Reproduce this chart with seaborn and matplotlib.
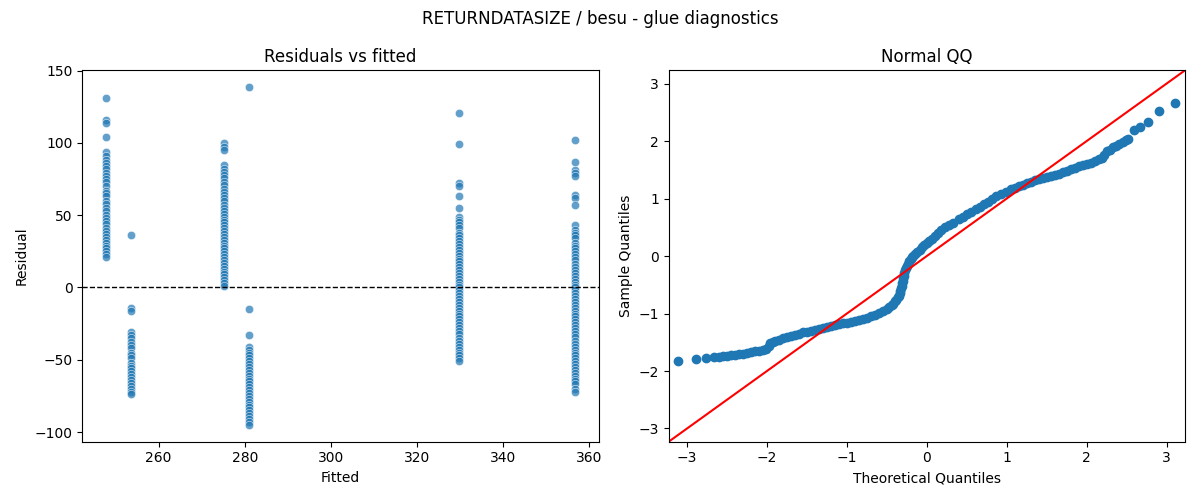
import matplotlib
matplotlib.use("Agg")
import matplotlib.pyplot as plt
import seaborn as sns
import pandas as pd
import numpy as np

# ---- Residuals vs fitted data (one list of residuals per fitted level) ----
fitted_levels = [247.7, 253.5, 275.1, 280.9, 329.7, 356.8]

resid_247 = [131, 116, 114, 104, 94, 91, 88, 86, 84, 82, 79, 77, 75, 73, 70, 67,
             65, 63, 60, 58, 55, 53, 50, 48, 46, 44, 41, 39, 37, 35, 33, 31, 29,
             27, 25, 23, 21]
resid_253 = [36, -14, -16, -31, -33, -35, -38, -40, -42, -45, -47, -49, -52, -54,
             -56, -58, -60, -62, -64, -66, -68, -70, -72, -74]
resid_275 = [100, 97, 95, 85, 82, 80, 78, 76, 73, 71, 68, 66, 64, 62, 60, 57, 55,
             53, 51, 49, 47, 45, 43, 41, 39, 37, 35, 33, 31, 29, 27, 25, 23, 21,
             19, 17, 15, 13, 11, 9, 7, 5, 3, 1]
resid_281 = [138.5, -15, -33, -41, -43, -45, -47, -49, -51, -53, -55, -57, -59,
             -61, -63, -65, -67, -69, -71, -73, -75, -77, -79, -81, -83, -85, -87,
             -89, -91, -93, -95]
resid_330 = [120.5, 99, 72, 70, 63, 55, 49, 47, 45, 43, 41, 38, 36, 34, 32, 30,
             28, 26, 24, 22, 20, 18, 16, 14, 12, 10, 8, 6, 4, 2, 0, -2, -4, -6,
             -8, -10, -12, -14, -16, -18, -20, -22, -24, -26, -28, -30, -32, -35,
             -37, -39, -41, -43, -45, -47, -49, -51]
resid_357 = [102, 87, 81, 79, 77, 64, 62, 57, 43, 40, 38, 36, 34, 31, 29, 27, 25,
             23, 21, 19, 16, 14, 12, 10, 8, 6, 4, 2, 0, -2, -4, -6, -8, -10, -12,
             -14, -16, -18, -20, -22, -24, -26, -28, -30, -32, -34, -37, -39, -41,
             -43, -45, -47, -49, -51, -53, -55, -57, -59, -61, -63, -65, -67, -70,
             -72]

# ---- Normal QQ data (theoretical, sample) ----
qq_theoretical = [
    -3.11, -2.89, -2.76, -2.66, -2.60,
    -2.55, -2.50, -2.45, -2.40, -2.35, -2.30, -2.25, -2.20, -2.15, -2.10, -2.05,
    -2.01, -1.98, -1.96, -1.93, -1.90, -1.85, -1.80, -1.75, -1.70, -1.65, -1.60,
    -1.55, -1.50, -1.45, -1.40, -1.35, -1.30, -1.25, -1.20, -1.15, -1.10, -1.05,
    -1.00, -0.95, -0.90, -0.85, -0.80, -0.75, -0.70, -0.65, -0.60, -0.55, -0.50,
    -0.47, -0.44, -0.42, -0.40, -0.38, -0.365, -0.35, -0.34, -0.33, -0.32, -0.31,
    -0.305, -0.30, -0.295, -0.29, -0.28, -0.27, -0.26, -0.25, -0.235, -0.22,
    -0.20, -0.185, -0.17, -0.15, -0.12, -0.09, -0.06, -0.03, 0.00, 0.03, 0.06,
    0.10, 0.14, 0.18, 0.23, 0.28, 0.33, 0.40, 0.45, 0.50, 0.55, 0.61, 0.66, 0.71,
    0.76, 0.82, 0.87, 0.93, 0.99, 1.05, 1.10, 1.15, 1.20, 1.25, 1.30, 1.35, 1.40,
    1.45, 1.50, 1.55, 1.60, 1.65, 1.70, 1.75, 1.80, 1.85, 1.90, 1.95, 2.00, 2.05,
    2.10, 2.15, 2.19, 2.22, 2.25, 2.29, 2.33, 2.37, 2.41, 2.45, 2.49, 2.52,
    2.59, 2.67, 2.77, 2.90, 3.11,
]
qq_sample = [
    -1.82, -1.79, -1.77, -1.76, -1.755,
    -1.74, -1.74, -1.73, -1.72, -1.71, -1.70, -1.68, -1.67, -1.66, -1.65, -1.63,
    -1.61, -1.57, -1.52, -1.49, -1.48, -1.46, -1.42, -1.40, -1.39, -1.37, -1.35,
    -1.33, -1.32, -1.30, -1.28, -1.27, -1.25, -1.23, -1.22, -1.20, -1.19, -1.17,
    -1.16, -1.14, -1.13, -1.11, -1.09, -1.07, -1.05, -1.02, -0.99, -0.96, -0.92,
    -0.89, -0.86, -0.83, -0.79, -0.76, -0.72, -0.69, -0.64, -0.60, -0.56, -0.52,
    -0.47, -0.43, -0.39, -0.35, -0.30, -0.25, -0.21, -0.17, -0.13, -0.09,
    -0.05, -0.02, 0.00, 0.03, 0.07, 0.11, 0.15, 0.19, 0.23, 0.26, 0.30,
    0.35, 0.40, 0.45, 0.50, 0.54, 0.58, 0.64, 0.68, 0.73, 0.77, 0.82, 0.86, 0.90,
    0.94, 0.99, 1.04, 1.08, 1.12, 1.16, 1.19, 1.22, 1.24, 1.27, 1.29, 1.32, 1.34,
    1.36, 1.37, 1.39, 1.41, 1.43, 1.46, 1.48, 1.51, 1.53, 1.56, 1.58, 1.60, 1.62,
    1.65, 1.68, 1.71, 1.76, 1.82, 1.85, 1.89, 1.92, 1.95, 1.98, 2.01, 2.03,
    2.19, 2.24, 2.33, 2.52, 2.67,
]

resid_groups = [resid_247, resid_253, resid_275, resid_281, resid_330, resid_357]
rows = []
for f, rs in zip(fitted_levels, resid_groups):
    for r in rs:
        rows.append({"Fitted": f, "Residual": r})
df = pd.DataFrame(rows)
qq = pd.DataFrame({"theo": qq_theoretical, "samp": qq_sample})

fig, (ax1, ax2) = plt.subplots(1, 2, figsize=(12, 5), dpi=100)

sns.scatterplot(data=df, x="Fitted", y="Residual", ax=ax1, alpha=0.7,
                color="#1f77b4", s=36)
ax1.axhline(0, color="black", linestyle="--", linewidth=1)
ax1.set_title("Residuals vs fitted")
ax1.set_xlabel("Fitted")
ax1.set_ylabel("Residual")

sns.scatterplot(data=qq, x="theo", y="samp", ax=ax2, color="#1f77b4",
                edgecolor="#1f77b4", linewidth=1, s=36, alpha=1)
lim = 3.23
ax2.set_xlim(-lim, lim)
ax2.set_ylim(-lim, lim)
ax2.plot([-lim, lim], [-lim, lim], color="red", linewidth=1.5)
ax2.set_title("Normal QQ")
ax2.set_xlabel("Theoretical Quantiles")
ax2.set_ylabel("Sample Quantiles")

fig.suptitle("RETURNDATASIZE / besu - glue diagnostics")
fig.tight_layout()
fig.savefig("out.png", dpi=100)
